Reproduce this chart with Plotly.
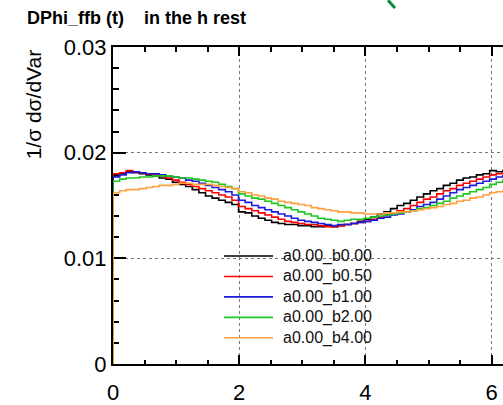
import numpy as np
import plotly.graph_objects as go

# Histogram binning: 60 bins over [0, 2*pi]
n_bins = 60
x_max = 2 * np.pi

labels = ["a0.00_b0.00", "a0.00_b0.50", "a0.00_b1.00", "a0.00_b2.00", "a0.00_b4.00"]
colors = ["#000000", "#ff0000", "#1a1ae0", "#1ec81e", "#ffa040"]

h_b000 = [0.0178, 0.0180, 0.0182, 0.0181, 0.0180, 0.0179, 0.0178, 0.0176, 0.0175, 0.0172,
          0.0170, 0.0168, 0.0165, 0.0162, 0.0159, 0.0157, 0.0155, 0.0153, 0.0151, 0.0144,
          0.0143, 0.0140, 0.0138, 0.0136, 0.0134, 0.0133, 0.0132, 0.0132, 0.0131, 0.0131,
          0.0130, 0.0130, 0.0131, 0.0130, 0.0131, 0.0132, 0.0133, 0.0135, 0.0137, 0.0139,
          0.0142, 0.0144, 0.0147, 0.0150, 0.0152, 0.0155, 0.0158, 0.0161, 0.0164, 0.0166,
          0.0169, 0.0171, 0.0174, 0.0176, 0.0177, 0.0179, 0.0180, 0.0183, 0.0182, 0.0183]

h_b050 = [0.0180, 0.0181, 0.0183, 0.0182, 0.0181, 0.0180, 0.0179, 0.0178, 0.0176, 0.0174,
          0.0172, 0.0170, 0.0168, 0.0166, 0.0164, 0.0162, 0.0160, 0.0158, 0.0155, 0.0149,
          0.0147, 0.0145, 0.0143, 0.0141, 0.0139, 0.0137, 0.0135, 0.0134, 0.0133, 0.0132,
          0.0132, 0.0131, 0.0130, 0.0130, 0.0131, 0.0132, 0.0133, 0.0134, 0.0135, 0.0137,
          0.0139, 0.0141, 0.0143, 0.0145, 0.0147, 0.0150, 0.0153, 0.0156, 0.0158, 0.0161,
          0.0164, 0.0166, 0.0169, 0.0171, 0.0173, 0.0175, 0.0177, 0.0179, 0.0180, 0.0181]

h_b100 = [0.0177, 0.0179, 0.0181, 0.0182, 0.0181, 0.0180, 0.0180, 0.0179, 0.0178, 0.0177,
          0.0176, 0.0174, 0.0173, 0.0171, 0.0169, 0.0167, 0.0165, 0.0163, 0.0160, 0.0155,
          0.0153, 0.0150, 0.0148, 0.0146, 0.0144, 0.0142, 0.0140, 0.0138, 0.0136, 0.0135,
          0.0134, 0.0133, 0.0132, 0.0131, 0.0132, 0.0132, 0.0133, 0.0134, 0.0135, 0.0136,
          0.0138, 0.0139, 0.0141, 0.0142, 0.0144, 0.0146, 0.0149, 0.0151, 0.0153, 0.0156,
          0.0159, 0.0162, 0.0165, 0.0167, 0.0169, 0.0171, 0.0173, 0.0175, 0.0177, 0.0178]

h_b200 = [0.0173, 0.0175, 0.0176, 0.0176, 0.0177, 0.0177, 0.0178, 0.0178, 0.0178, 0.0177,
          0.0176, 0.0176, 0.0175, 0.0174, 0.0173, 0.0172, 0.0170, 0.0168, 0.0166, 0.0161,
          0.0159, 0.0157, 0.0156, 0.0154, 0.0152, 0.0150, 0.0148, 0.0146, 0.0144, 0.0142,
          0.0140, 0.0138, 0.0137, 0.0136, 0.0135, 0.0136, 0.0137, 0.0137, 0.0138, 0.0139,
          0.0140, 0.0141, 0.0142, 0.0143, 0.0144, 0.0145, 0.0147, 0.0148, 0.0150, 0.0152,
          0.0154, 0.0157, 0.0159, 0.0161, 0.0163, 0.0165, 0.0167, 0.0170, 0.0172, 0.0174]

h_b400 = [0.0162, 0.0164, 0.0165, 0.0165, 0.0166, 0.0167, 0.0168, 0.0169, 0.0169, 0.0170,
          0.0171, 0.0171, 0.0170, 0.0170, 0.0170, 0.0169, 0.0168, 0.0167, 0.0166, 0.0163,
          0.0162, 0.0160, 0.0159, 0.0157, 0.0156, 0.0154, 0.0153, 0.0152, 0.0151, 0.0150,
          0.0148, 0.0147, 0.0146, 0.0145, 0.0144, 0.0144, 0.0143, 0.0143, 0.0142, 0.0142,
          0.0142, 0.0143, 0.0143, 0.0144, 0.0144, 0.0145, 0.0146, 0.0147, 0.0148, 0.0149,
          0.0151, 0.0152, 0.0154, 0.0155, 0.0157, 0.0158, 0.0160, 0.0162, 0.0163, 0.0164]

series = [h_b000, h_b050, h_b100, h_b200, h_b400]

x_ticks = [0, 2, 4, 6]
y_ticks = [0, 0.01, 0.02, 0.03]

FONT = "Liberation Sans, Arial, Helvetica, sans-serif"
W, H = 503, 405
ML, MR, MT, MB = 113, 0, 47, 32
px_per_unit = 63.1
x_view = (W - ML - MR) / px_per_unit

edges = np.linspace(0, x_max, n_bins + 1)

fig = go.Figure()
for name, vals, col in zip(labels, series, colors):
    xs = [0.0] + list(edges[:-1]) + [x_max, x_max]
    ys = [0.0] + list(vals) + [vals[-1], 0.0]
    fig.add_trace(go.Scatter(
        x=xs, y=ys, mode="lines", name=name,
        line=dict(color=col, width=1.6, shape="hv"),
        showlegend=False, hoverinfo="skip",
    ))


def px_to_paper(px, py):
    return (px - ML) / (W - ML - MR), (H - MB - py) / (H - MT - MB)


# Legend drawn as line samples with text labels
leg_rows = [262, 283, 304, 325, 346]
for name, col, ry in zip(labels, colors, leg_rows):
    x0, y0 = px_to_paper(224, ry)
    x1, _ = px_to_paper(273, ry)
    fig.add_shape(type="line", xref="paper", yref="paper", x0=x0, x1=x1, y0=y0, y1=y0,
                  line=dict(color=col, width=1.6))
    tx, _ = px_to_paper(282, ry)
    fig.add_annotation(xref="paper", yref="paper", x=tx, y=y0, text=name, showarrow=False,
                       xanchor="left", yanchor="middle", borderpad=0,
                       font=dict(family=FONT, size=16, color="#111"))

# Header text
hx1, hy = px_to_paper(26, 17)
hx2, _ = px_to_paper(143, 17)
fig.add_annotation(xref="paper", yref="paper", x=hx1, y=hy,
                   text="<b>DPhi_ffb (t)</b>", showarrow=False, xanchor="left", yanchor="middle",
                   borderpad=0, font=dict(family=FONT, size=18, color="#000"))
fig.add_annotation(xref="paper", yref="paper", x=hx2, y=hy,
                   text="<b>in the h rest</b>", showarrow=False, xanchor="left", yanchor="middle",
                   borderpad=0, font=dict(family=FONT, size=18, color="#000"))

# Y axis title
fig.add_annotation(xref="paper", yref="paper", x=px_to_paper(33, 0)[0], y=px_to_paper(0, 106)[1],
                   text="1/σ dσ/dVar", textangle=-90, showarrow=False,
                   xanchor="center", yanchor="middle",
                   font=dict(family=FONT, size=21, color="#000"))

# Green stroke at the top edge
gx0, gy0 = px_to_paper(388, -1)
gx1, gy1 = px_to_paper(395, 7)
fig.add_shape(type="line", xref="paper", yref="paper", x0=gx0, y0=gy0, x1=gx1, y1=gy1,
              line=dict(color="#0a8a3a", width=3))

fig.update_layout(
    width=W, height=H,
    margin=dict(l=ML, r=MR, t=MT, b=MB, pad=0),
    paper_bgcolor="white", plot_bgcolor="white",
    font=dict(family=FONT, color="#000"),
    xaxis=dict(
        range=[0, x_view], tickvals=x_ticks, ticktext=[str(v) for v in x_ticks],
        ticks="inside", ticklen=9, tickwidth=2, tickcolor="#000",
        minor=dict(dtick=0.5, tick0=0, ticks="inside", ticklen=4.5, tickwidth=1.5,
                   tickcolor="#000", showgrid=False),
        showgrid=True, gridcolor="#777", gridwidth=1, griddash="dot",
        showline=True, linewidth=2, linecolor="#000", mirror="ticks",
        zeroline=False, layer="below traces",
        tickfont=dict(family=FONT, size=22, color="#000"),
        ticklabelstandoff=8,
    ),
    yaxis=dict(
        range=[0, 0.03], tickvals=y_ticks, ticktext=["0", "0.01", "0.02", "0.03"],
        ticks="inside", ticklen=13, tickwidth=2, tickcolor="#000",
        minor=dict(dtick=0.002, tick0=0, ticks="inside", ticklen=6, tickwidth=1.5,
                   tickcolor="#000", showgrid=False),
        showgrid=True, gridcolor="#777", gridwidth=1, griddash="dot",
        showline=True, linewidth=2, linecolor="#000", mirror=False,
        zeroline=False, layer="below traces",
        tickfont=dict(family=FONT, size=22, color="#000"),
    ),
)

fig.write_html("out.html")
